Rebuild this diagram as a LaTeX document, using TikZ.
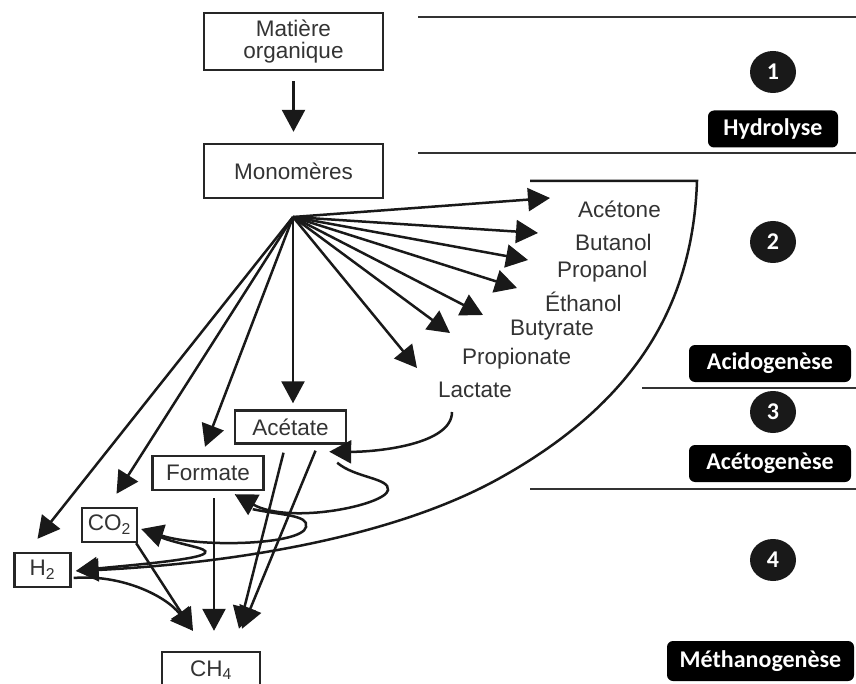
\documentclass[tikz,border=0pt]{standalone}
\usepackage{fontspec}
\setmainfont{Liberation Sans}
\newfontfamily\calibri{Carlito}
\usepackage{tikz}
\usetikzlibrary{arrows.meta, positioning, calc, shapes.geometric}

\begin{document}
\begin{tikzpicture}[x=1pt, y=-1pt,
        box/.style={draw=black!85, line width=2.4pt, inner sep=0pt, align=center, text=black!80, font=\fontsize{22.5}{22}\selectfont},
        prod/.style={anchor=west, inner sep=0pt, text=black!80, font=\fontsize{22.5}{24}\selectfont},
        phase/.style={fill=black, rounded corners=6pt, text=white, minimum height=37pt, inner sep=0pt, font=\calibri\bfseries\fontsize{24}{24}\selectfont},
        num/.style={ellipse, fill=black!90, text=white, minimum width=46pt, minimum height=42pt, inner sep=0pt, font=\calibri\bfseries\fontsize{24}{24}\selectfont},
        arr/.style={-{Triangle[length=22pt,width=23pt]}, line width=2.5pt, black!90},
        sep/.style={line width=2.2pt, black!80}
    ]
        \useasboundingbox (0,0) rectangle (856,684);
        \clip (0,0) rectangle (856,684);
        \fill[white] (0,0) rectangle (856,684);

        % Phase separators
        \draw[sep] (418,17) -- (856,17);
        \draw[sep] (418,153) -- (856,153);
        \draw[sep] (642,388) -- (856,388);
        \draw[sep] (530,489) -- (856,489);

        % Phase numbers and names
        \node[num] (n1) at (773,72) {1};
        \node[num] (n2) at (773,242) {2};
        \node[num] (n3) at (773,412) {3};
        \node[num] (n4) at (773,560) {4};
        \node[phase, minimum width=130pt] (hydro) at (773,129) {Hydrolyse};
        \node[phase, minimum width=162pt] (acido) at (770,363.5) {Acidogenèse};
        \node[phase, minimum width=162pt] (aceto) at (770,463.5) {Acétogenèse};
        \node[phase, minimum width=187pt, minimum height=40pt] (metha) at (760.5,661) {Méthanogenèse};

        % Boxes
        \node[box, minimum width=179pt, minimum height=57pt] (mat) at (293.5,41.5) {Matière\\organique};
        \node[box, minimum width=179pt, minimum height=54pt] (mono) at (293.5,171) {Monomères};
        \node[box, minimum width=111pt, minimum height=33pt] (ace) at (290.5,427) {Acétate};
        \node[box, minimum width=111pt, minimum height=34pt] (form) at (208,473) {Formate};
        \node[box, minimum width=55pt, minimum height=34pt] (co2) at (109.5,525) {CO\textsubscript{2}};
        \node[box, minimum width=56pt, minimum height=34pt] (h2) at (42.5,570) {H\textsubscript{2}};
        \node[box, minimum width=98pt, minimum height=36pt] (ch4) at (211,670) {CH\textsubscript{4}};

        \draw[arr, shorten <=10pt, shorten >=11pt] (mat) -- (mono);

        % Fan out of the monomers
        \coordinate (hub) at (293,217);
        \foreach \nm/\txt/\px/\py/\dx/\dy in {acet/Acétone/578/209/-28/11,
                buta/Butanol/575/242/-37/9,
                propa/Propanol/557/272/-29/12,
                etha/Éthanol/545/302/-28/14,
                butyr/Butyrate/510/330/-27/15,
                propio/Propionate/462/359/-12/26,
                lact/Lactate/438/390/-21/22} {
            \node[prod] (\nm) at (\px,\py) {\txt};
            \draw[arr] (hub) -- ([xshift=\dx pt, yshift=\dy pt]\nm.west);
        }
        \draw[arr] (hub) -- ([yshift=6pt]hub |- ace.north);
        \draw[arr] (hub) -- ([xshift=-3pt, yshift=8pt]form.north);
        \draw[arr] (hub) -- ([xshift=7pt, yshift=13pt]co2.north);
        \draw[arr] (hub) -- ([xshift=-5pt, yshift=13pt]h2.north);

        % Bracket of the products, down to H2
        \draw[arr] (530,181) -- (697,181) .. controls (693,300) and (640,400) .. (500,478)
            .. controls (380,545) and (200,565) .. ($(h2.east)+(5,1)$);

        % Acetogenesis loops
        \draw[arr] ($(lact.west)+(14,22)$) .. controls (452,445) and (375,452) .. ($(ace.south east)+(-18,7)$);
        \draw[arr] ($(ace.south east)+(-10,18)$) .. controls (355,478) and (390,478) .. (388,490)
            .. controls (386,505) and (290,525) .. ($(form.south east)+(-30,3)$);
        \draw[arr] ($(form.south east)+(-12,18)$) .. controls (280,515) and (310,515) .. (306,527)
            .. controls (302,545) and (200,548) .. ($(co2.east)+(3,4)$);
        \draw[arr] ($(co2.east)+(22,12)$) .. controls (180,545) and (210,548) .. (205,553)
            .. controls (200,560) and (120,566) .. ($(h2.east)+(4,1)$);

        % Methanogenesis
        \draw[arr] ($(h2.east)+(2,8)$) .. controls (120,574) and (165,595) .. ($(ch4.north)+(-18,-20)$);
        \draw[arr] ($(co2.south east)+(-2,0)$) -- ($(ch4.north)+(-18,-20)$);
        \draw[arr] ([xshift=6pt, yshift=-7pt]form.south) -- ([xshift=6pt, yshift=20pt]form.south |- ch4.north);
        \draw[arr] ($(ace.south)+(-7,8)$) -- ($(ch4.north)+(28,-22)$);
        \draw[arr] ($(ace.south)+(25,6)$) -- ($(ch4.north)+(31,-22)$);
    \end{tikzpicture}
\end{document}
